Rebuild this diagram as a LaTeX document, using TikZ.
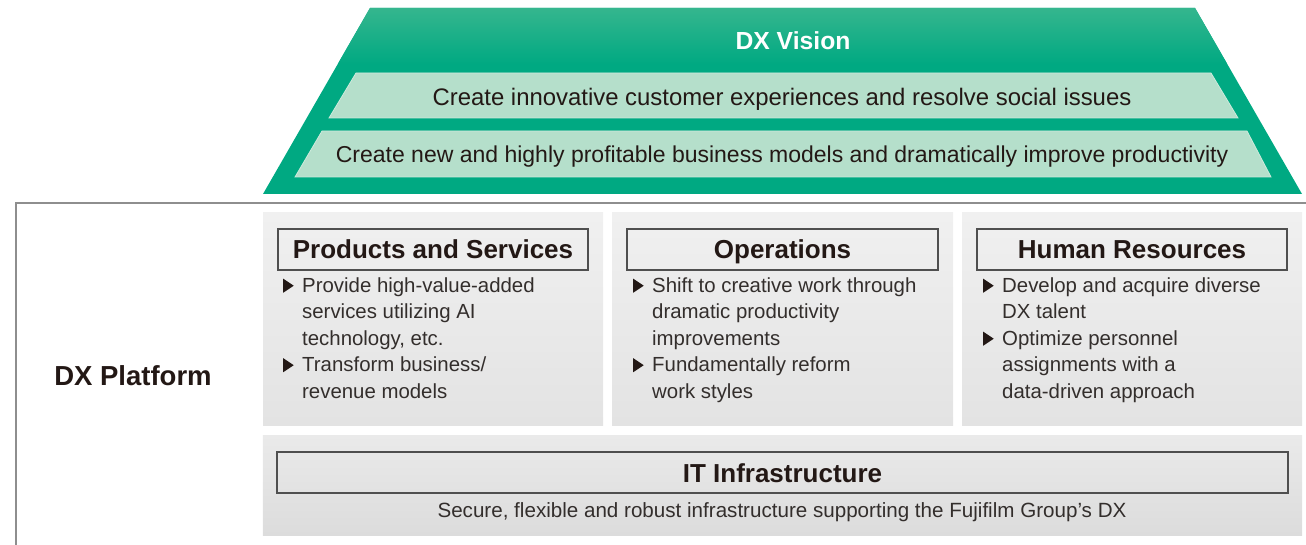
\documentclass[tikz,border=0pt]{standalone}
\usepackage{fontspec}
\setmainfont{Liberation Sans}
\definecolor{dxgreen}{HTML}{00A982}
\definecolor{dxgreenlt}{HTML}{36B68E}
\definecolor{dxband}{HTML}{B5DFCB}
\definecolor{dxbandedge}{HTML}{CDEADC}
\definecolor{txt}{HTML}{231815}
\definecolor{bodycol}{HTML}{332E2C}
\definecolor{pgrayA}{HTML}{F0F0F0}
\definecolor{pgrayB}{HTML}{E3E3E3}
\definecolor{itgrayA}{HTML}{EAEAEA}
\definecolor{itgrayB}{HTML}{DCDCDC}
\definecolor{framegray}{HTML}{8E8E8E}
\definecolor{boxline}{HTML}{4F4F4F}
\newcommand\fbody{\fontsize{20.4bp}{26.5bp}\selectfont}
\newcommand\fhead{\fontsize{26bp}{30bp}\selectfont\bfseries}
\newcommand\fplat{\fontsize{27.5bp}{30bp}\selectfont\bfseries}
\newcommand\fvision{\fontsize{24.7bp}{28bp}\selectfont\bfseries}
\newcommand\fbandA{\fontsize{23.9bp}{28bp}\selectfont}
\newcommand\fbandB{\fontsize{23bp}{28bp}\selectfont}
\newcommand\fsub{\fontsize{20.6bp}{26bp}\selectfont}
\newcommand\bulmark{\makebox[19bp][l]{\tikz[baseline=0pt]\fill[txt] (0bp,-0.5bp)--(0bp,13.5bp)--(10.5bp,6.5bp)--cycle;}}
\newcommand\lineind{\hspace*{19bp}}
\begin{document}
\begin{tikzpicture}[x=1bp,y=-1bp,
  panel/.style={inner sep=0, outer sep=0, minimum height=212bp, top color=pgrayA, bottom color=pgrayB, draw=none},
  itpanel/.style={inner sep=0, outer sep=0, minimum width=1039bp, minimum height=100bp, top color=itgrayA, bottom color=itgrayB, draw=none},
  hdrbox/.style={draw=boxline, line width=1.1bp, inner sep=0, minimum height=41bp, text height=19bp, text depth=0bp, font=\fhead, text=txt},
  bodytxt/.style={anchor=north west, inner sep=0, align=left, font=\fbody, text=bodycol},
  bandtxt/.style={anchor=base, inner sep=0, text=txt},
  lbl/.style={anchor=base, inner sep=0, text=txt}
]
\useasboundingbox (0,0) rectangle (1306,545);
% ---------- DX Vision trapezoid ----------
\coordinate (tl) at (370,8);
\coordinate (tr) at (1195,8);
\coordinate (br) at (1302,194);
\coordinate (bl) at (263,194);
\fill[dxgreen] (tl) -- (tr) -- (br) -- (bl) -- cycle;
\begin{scope}
  \clip (tl) -- (tr) -- (br) -- (bl) -- cycle;
  \shade[top color=dxgreenlt, bottom color=dxgreen] (250,7) rectangle (1310,64);
\end{scope}
\filldraw[fill=dxband, draw=dxbandedge, line width=0.8bp] (356,73) -- (1211,73) -- (1238,118) -- (329,118) -- cycle;
\filldraw[fill=dxband, draw=dxbandedge, line width=0.8bp] (322,131) -- (1247,131) -- (1271,177) -- (295,177) -- cycle;
\node[lbl, font=\fvision, text=white] (vision) at (793,49.3) {DX Vision};
\node[bandtxt, font=\fbandA] (band1) at (782,106) {Create innovative customer experiences and resolve social issues};
\node[bandtxt, font=\fbandB] (band2) at (782,163) {Create new and highly profitable business models and dramatically improve productivity};
% ---------- DX Platform frame ----------
\coordinate (fb) at (16,546);
\coordinate (fc) at (16,203);
\coordinate (fr) at (1307,203);
\draw[framegray, line width=2bp] (fb) -- (fc) -- (fr);
\node[lbl, font=\fplat] (platform) at (133,385) {DX Platform};
% ---------- panels ----------
\node[panel, minimum width=340bp] (p1) at (433,319) {};
\node[panel, minimum width=341bp] (p2) at (782.5,319) {};
\node[panel, minimum width=340bp] (p3) at (1132,319) {};
\node[itpanel] (pit) at (782.5,485) {};
% headers
\node[hdrbox, minimum width=310bp] (h1) at (433,249.5) {Products and Services};
\node[hdrbox, minimum width=311bp] (h2) at (782.5,249.5) {Operations};
\node[hdrbox, minimum width=310bp] (h3) at (1132,249.5) {Human Resources};
\node[hdrbox, minimum width=1011bp] (hit) at (782.5,472.5) {IT Infrastructure};
% bullet texts
\node[bodytxt] (t1) at (283,273.45) {\strut\bulmark Provide high-value-added\\
  \lineind services utilizing AI\\
  \lineind technology, etc.\\
  \bulmark Transform business/\\
  \lineind revenue models};
\node[bodytxt] (t2) at (633,273.45) {\strut\bulmark Shift to creative work through\\
  \lineind dramatic productivity\\
  \lineind improvements\\
  \bulmark Fundamentally reform\\
  \lineind work styles};
\node[bodytxt] (t3) at (983,273.45) {\strut\bulmark Develop and acquire diverse\\
  \lineind DX talent\\
  \bulmark Optimize personnel\\
  \lineind assignments with a\\
  \lineind data-driven approach};
\node[lbl, font=\fsub, text=bodycol] (itsub) at (782,517.7) {Secure, flexible and robust infrastructure supporting the Fujifilm Group’s DX};
\end{tikzpicture}
\end{document}
